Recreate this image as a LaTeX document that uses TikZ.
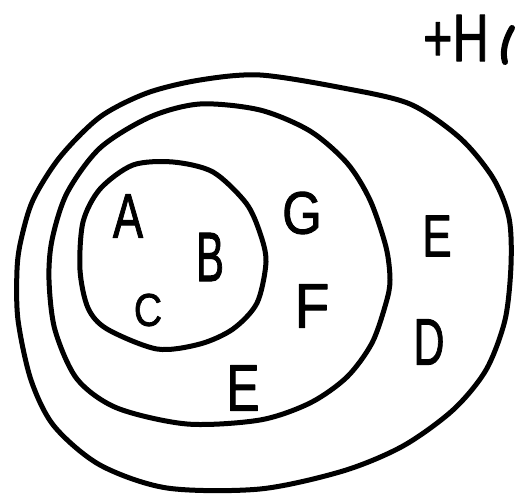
\documentclass[tikz,border=0pt]{standalone}
\usepackage{fontspec}
\usepackage{graphicx}
\setmainfont{Liberation Sans}
\newfontfamily\handfont[FakeBold=1.6]{Liberation Sans}
\newcommand{\lt}[3]{\handfont\fontsize{#1}{#1}\selectfont\scalebox{#2}[1]{#3}}
\begin{document}
\begin{tikzpicture}[x=1pt,y=-1pt,line width=5pt,line join=round,line cap=round,
  lbl/.style={inner sep=0pt}]
\useasboundingbox (0,0) rectangle (516,495);
% outer region
\draw plot[smooth cycle] coordinates {(260,75) (343,88) (410,104) (460,138) (493,178) (509,218) (511,265) (505,320) (486,370) (453,410) (403,446) (343,471) (260,489) (167,488) (100,465) (54,426) (31,380) (18,320) (17,270) (21,240) (33,200) (60,157) (100,117) (147,93) (200,80)};
% middle region
\draw plot[smooth cycle] coordinates {(200,104) (260,110) (310,131) (347,163) (370,200) (386,247) (390,280) (386,303) (372,343) (347,377) (310,403) (260,420) (187,424) (117,408) (77,379) (55,330) (49,280) (52,240) (67,193) (100,148) (150,117)};
% inner region
\draw plot[smooth cycle] coordinates {(173,162) (213,172) (246,203) (260,233) (266,262) (257,303) (233,329) (200,344) (157,349) (107,329) (88,308) (80,270) (83,222) (100,189) (133,165)};
% labels
\node[lbl] (A) at (128,216) {\lt{63}{0.72}{A}};
\node[lbl] (B) at (210,257) {\lt{70}{0.6}{B}};
\node[lbl] (C) at (148,310) {\lt{46}{0.85}{C}};
\node[lbl] (G) at (302,213) {\lt{60}{0.85}{G}};
\node[lbl] (F) at (312,306) {\lt{63}{0.9}{F}};
\node[lbl] (E1) at (437,236) {\lt{59}{0.75}{E}};
\node[lbl] (D) at (429,342) {\lt{66}{0.65}{D}};
\node[lbl] (E2) at (243,388) {\lt{66}{0.75}{E}};
\node[lbl] (H) at (456,38) {\lt{67}{0.75}{+H}};
% cut-off stroke of the next handwritten letter at the edge
\draw[line width=6pt] (512,28) .. controls (505,40) and (502,52) .. (505,62);
\end{tikzpicture}
\end{document}
